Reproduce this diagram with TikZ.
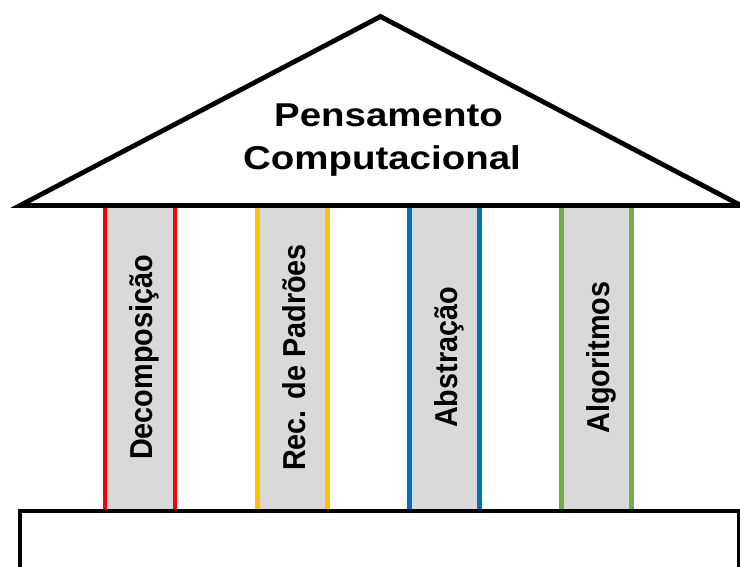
\documentclass[tikz,border=0pt]{standalone}
\usepackage{fontspec}
\setmainfont{Liberation Sans}
\usepackage{graphicx}
\definecolor{pgray}{HTML}{D9D9D9}
\definecolor{pred}{HTML}{FF0000}
\definecolor{pyellow}{HTML}{FFC000}
\definecolor{pblue}{HTML}{0070C0}
\definecolor{pgreen}{HTML}{70AD47}
\tikzset{
  outline/.style={draw=black, line width=4.8pt, line join=miter, miter limit=20},
  pillarfill/.style={fill=pgray, draw=none},
  pillaredge/.style={line width=4.4pt},
  titletext/.style={inner sep=0pt, anchor=base, font=\bfseries\fontsize{33}{40}\selectfont},
  pillartext/.style={inner sep=0pt, anchor=base, rotate=90, font=\bfseries\fontsize{28.8}{34}\selectfont}
}
\newcommand{\pillarpiece}[4]{%
  \path[pillarfill] (#1-35,206) rectangle (#1+35,511);
  \coordinate (#2tl) at (#1-35,206);
  \coordinate (#2bl) at (#1-35,511);
  \coordinate (#2tr) at (#1+35,206);
  \coordinate (#2br) at (#1+35,511);
  \draw[pillaredge, draw=#3] (#2tl) -- (#2bl);
  \draw[pillaredge, draw=#3] (#2tr) -- (#2br);
  \node[pillartext] (#2label) at (#1+12.5,357.5) {\scalebox{1}[1.1]{#4}};
}
\begin{document}
\begin{tikzpicture}[x=1pt,y=-1pt]
  \useasboundingbox (0,0) rectangle (740,566);
  \clip (0,0) rectangle (740,566);
  \fill[white] (0,0) rectangle (740,566);
  % pillars
  \pillarpiece{140}{p1}{pred}{Decomposição}
  \pillarpiece{292.5}{p2}{pyellow}{Rec. de Padrões}
  \pillarpiece{444.5}{p3}{pblue}{Abstração}
  \pillarpiece{596.5}{p4}{pgreen}{Algoritmos}
  % roof
  \coordinate (roofL) at (20,205.5);
  \coordinate (roofT) at (380.5,16.5);
  \coordinate (roofR) at (741,205.5);
  \draw[outline, fill=white] (roofL) -- (roofT) -- (roofR) -- cycle;
  % base
  \coordinate (baseTL) at (20,511);
  \coordinate (baseBR) at (739,620);
  \draw[outline, fill=white] (baseTL) rectangle (baseBR);
  % title
  \node[titletext] (t1) at (388.5,126.7) {\scalebox{1.165}[1]{Pensamento}};
  \node[titletext] (t2) at (382,169.5) {\scalebox{1.165}[1]{Computacional}};
\end{tikzpicture}
\end{document}
